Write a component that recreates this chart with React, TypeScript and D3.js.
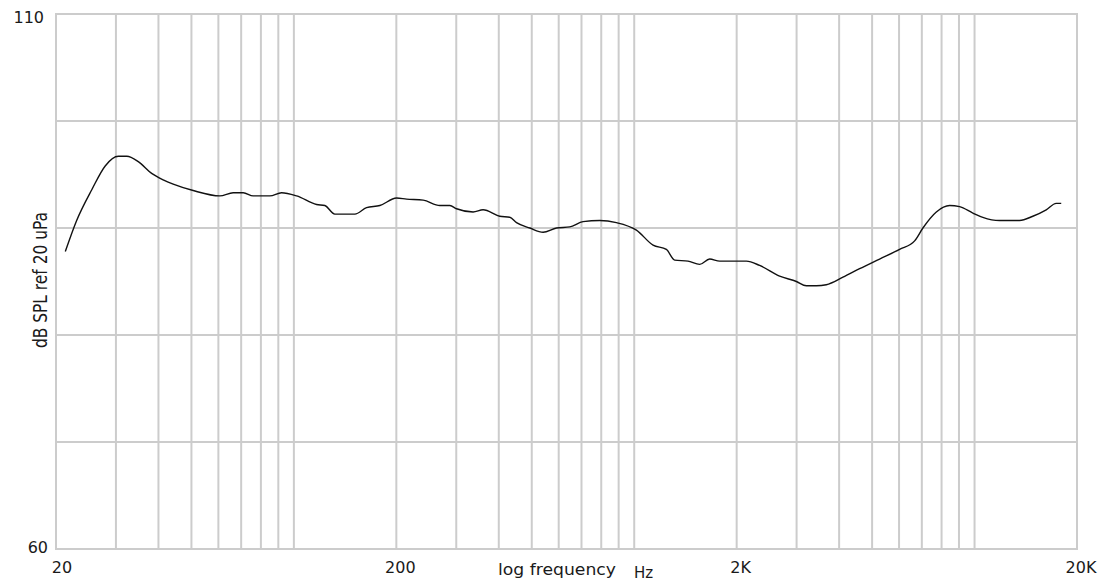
import { useEffect, useRef } from 'react';
import * as d3 from 'd3';

// frecuencias (Hz) y niveles (dB SPL)
const freqs = [
  21.3, 23.0, 25.5, 27.9, 30.5, 32.3, 34.9, 38.2, 41.3, 44.2, 50.6, 60.6, 66.3, 71.0, 75.9,
  85.0, 92.0, 101.9, 116.6, 123.3, 131.9, 151.1, 163.5, 178.9, 200.3, 214.3, 239.8, 268.5,
  287.3, 300.6, 336.2, 359.7, 402.7, 430.9, 451.0, 493.4, 539.9, 591.1, 646.6, 707.4, 792.0,
  886.6, 1015, 1136, 1243, 1315, 1439, 1557, 1666, 1783, 1996, 2136, 2337, 2675, 2995, 3205,
  3429, 3668, 4105, 4595, 5261, 6022, 6668, 7051, 7722, 8447, 9035, 9886, 10575, 11840, 13556,
  14834, 16241, 17377, 17975,
];
const levels = [
  87.8, 90.7, 93.6, 95.8, 96.7, 96.7, 96.2, 95.1, 94.5, 94.1, 93.5, 93.0, 93.3, 93.3, 93.0,
  93.0, 93.3, 93.0, 92.2, 92.1, 91.3, 91.3, 91.9, 92.1, 92.8, 92.7, 92.6, 92.1,
  92.1, 91.8, 91.5, 91.7, 91.1, 91.0, 90.5, 90.0, 89.6, 90.0, 90.1, 90.6, 90.7,
  90.5, 89.8, 88.4, 88.0, 87.0, 86.9, 86.6, 87.1, 86.9, 86.9, 86.9, 86.5, 85.5, 85.0, 84.6,
  84.6, 84.7, 85.4, 86.2, 87.1, 88.0, 88.8, 90.0, 91.5, 92.1, 92.0, 91.4, 91.0, 90.7, 90.7,
  91.1, 91.7, 92.3, 92.3,
];

const gridFreqs = [
  20, 30, 40, 50, 60, 70, 80, 90, 100, 200, 300, 400, 500, 600, 700, 800, 900,
  1000, 2000, 3000, 4000, 5000, 6000, 7000, 8000, 9000, 10000, 20000,
];
const gridLevels = [60, 70, 80, 90, 100, 110];
const xTickValues = [20, 200, 2000, 20000];
const xTickLabels = ['20', '200', '2K', '20K'];
const yTickValues = [110, 60];
const yTickLabels = ['110', '60'];

export default function App() {
  const svgRef = useRef<SVGSVGElement>(null);

  useEffect(() => {
    const width = 1114;
    const height = 586;
    const margin = { top: 14, right: 37, bottom: 37, left: 56 };

    const svg = d3.select(svgRef.current);
    svg.selectAll('*').remove();

    const x = d3.scaleLog().domain([20, 20000]).range([margin.left, width - margin.right]);
    const y = d3.scaleLinear().domain([60, 110]).range([height - margin.bottom, margin.top]);

    const font = '"DejaVu Sans", Verdana, sans-serif';

    // Rejilla vertical
    svg.append('g')
      .selectAll('line')
      .data(gridFreqs)
      .enter().append('line')
      .attr('x1', d => x(d))
      .attr('x2', d => x(d))
      .attr('y1', y(60))
      .attr('y2', y(110))
      .attr('stroke', '#cccccc')
      .attr('stroke-width', 2);

    // Rejilla horizontal
    svg.append('g')
      .selectAll('line')
      .data(gridLevels)
      .enter().append('line')
      .attr('x1', x(20) - 1)
      .attr('x2', x(20000) + 1)
      .attr('y1', d => y(d))
      .attr('y2', d => y(d))
      .attr('stroke', '#cccccc')
      .attr('stroke-width', 2);

    // Curva
    const line = d3.line<number>()
      .x((_, i) => x(freqs[i]))
      .y(d => y(d))
      .curve(d3.curveMonotoneX);

    svg.append('path')
      .datum(levels)
      .attr('d', line)
      .attr('fill', 'none')
      .attr('stroke', '#111')
      .attr('stroke-width', 1.4);

    // Etiquetas eje Y
    svg.append('g')
      .selectAll('text')
      .data(yTickValues)
      .enter().append('text')
      .attr('x', (d, i) => (i === 0 ? 44 : 48))
      .attr('y', (d, i) => y(d) + (i === 0 ? 9 : 4))
      .attr('text-anchor', 'end')
      .attr('font-family', font)
      .attr('font-size', 16)
      .attr('fill', '#1a1a1a')
      .text((_, i) => yTickLabels[i]);

    // Etiquetas eje X
    svg.append('g')
      .selectAll('text')
      .data(xTickValues)
      .enter().append('text')
      .attr('x', (d, i) => x(d) + (i === 0 ? 6 : 4))
      .attr('y', 573)
      .attr('text-anchor', 'middle')
      .attr('font-family', font)
      .attr('font-size', 16)
      .attr('fill', '#1a1a1a')
      .text((_, i) => xTickLabels[i]);

    svg.append('text')
      .attr('x', 498)
      .attr('y', 575)
      .attr('font-family', font)
      .attr('font-size', 16)
      .attr('fill', '#1a1a1a')
      .attr('textLength', 118)
      .attr('lengthAdjust', 'spacingAndGlyphs')
      .text('log frequency');

    svg.append('text')
      .attr('x', 634)
      .attr('y', 578)
      .attr('font-family', font)
      .attr('font-size', 15)
      .attr('fill', '#1a1a1a')
      .text('Hz');

    // Título eje Y (condensado como en el original)
    svg.append('text')
      .attr('transform', 'translate(47,280) rotate(-90)')
      .attr('text-anchor', 'middle')
      .attr('font-family', font)
      .attr('font-size', 19)
      .attr('fill', '#1a1a1a')
      .attr('textLength', 136)
      .attr('lengthAdjust', 'spacingAndGlyphs')
      .text('dB SPL ref 20 uPa');
  }, []);

  return (
    <svg
      ref={svgRef}
      width={1114}
      height={586}
      style={{ position: 'absolute', left: 0, top: 0, background: '#fff' }}
    />
  );
}
